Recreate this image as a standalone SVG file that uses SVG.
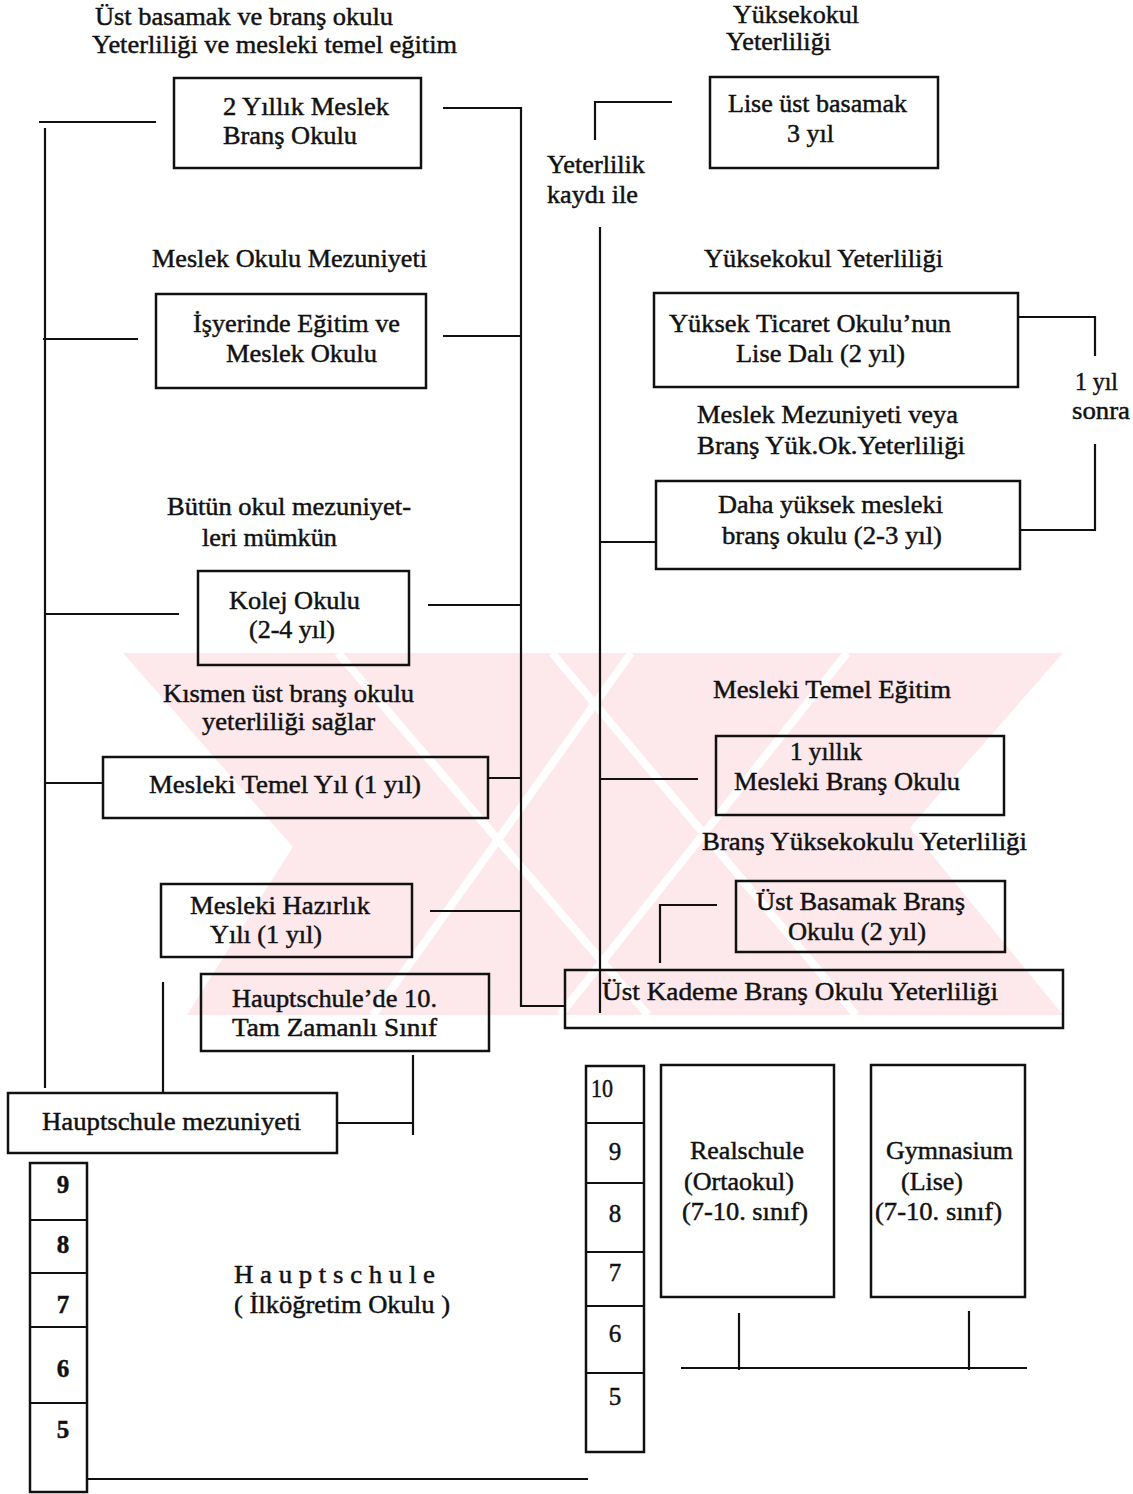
<svg xmlns="http://www.w3.org/2000/svg" width="1133" height="1494" viewBox="0 0 1133 1494">
<style>
  text { font-family: "Liberation Serif", "Times New Roman", serif; font-size: 25px; fill: #111; stroke: #111; stroke-width: 0.45; }
  .box { fill: none; stroke: #111; stroke-width: 2.5; }
  .ln { stroke: #111; stroke-width: 2.2; fill: none; }
  .wm { fill: #fde8ec; }
  .gap { stroke: #ffffff; stroke-width: 8; }
</style>
<rect x="0" y="0" width="1133" height="1494" fill="#ffffff"/>

<g id="watermark">
  <polygon class="wm" points="123,653 767,653 1063,1015 440,1015"/>
  <polygon class="wm" points="415,653 1063,653 746,1015 187,1015"/>
  <line class="gap" x1="338" y1="653" x2="648" y2="1015"/>
  <line class="gap" x1="552" y1="653" x2="856" y2="1015"/>
  <line class="gap" x1="631" y1="653" x2="373" y2="1015"/>
  <line class="gap" x1="847" y1="653" x2="560" y2="1015"/>
</g>

<g id="connectors">
  <line class="ln" x1="45" y1="128" x2="45" y2="1088"/>
  <line class="ln" x1="39" y1="122" x2="156" y2="122"/>
  <line class="ln" x1="43" y1="339" x2="138" y2="339"/>
  <line class="ln" x1="45" y1="614" x2="179" y2="614"/>
  <line class="ln" x1="45" y1="783" x2="103" y2="783"/>
  <polyline class="ln" points="443,108 521,108 521,1006 565,1006"/>
  <line class="ln" x1="443" y1="336" x2="521" y2="336"/>
  <line class="ln" x1="428" y1="605" x2="521" y2="605"/>
  <line class="ln" x1="488" y1="778" x2="521" y2="778"/>
  <line class="ln" x1="430" y1="911" x2="521" y2="911"/>
  <line class="ln" x1="600" y1="227" x2="600" y2="1013"/>
  <line class="ln" x1="600" y1="542" x2="656" y2="542"/>
  <line class="ln" x1="600" y1="779" x2="698" y2="779"/>
  <polyline class="ln" points="595,140 595,102 672,102"/>
  <polyline class="ln" points="1018,317 1095,317 1095,356"/>
  <polyline class="ln" points="1095,444 1095,530 1020,530"/>
  <polyline class="ln" points="660,963 660,905 717,905"/>
  <line class="ln" x1="163" y1="982" x2="163" y2="1093"/>
  <polyline class="ln" points="337,1123 413,1123"/>
  <line class="ln" x1="413" y1="1055" x2="413" y2="1135"/>
  <line class="ln" x1="87" y1="1479" x2="588" y2="1479"/>
  <line class="ln" x1="739" y1="1313" x2="739" y2="1370"/>
  <line class="ln" x1="969" y1="1311" x2="969" y2="1370"/>
  <line class="ln" x1="681" y1="1368" x2="1027" y2="1368"/>
</g>

<g id="label-top-left">
  <text x="95" y="25" textLength="298" lengthAdjust="spacingAndGlyphs">Üst basamak ve branş okulu</text>
  <text x="92" y="53" textLength="365" lengthAdjust="spacingAndGlyphs">Yeterliliği ve mesleki temel eğitim</text>
</g>
<g id="node-2-yillik">
  <rect class="box" x="174" y="78" width="247" height="90"/>
  <text x="223" y="115" textLength="166" lengthAdjust="spacingAndGlyphs">2 Yıllık Meslek</text>
  <text x="223" y="144" textLength="134" lengthAdjust="spacingAndGlyphs">Branş Okulu</text>
</g>
<g id="label-meslek-okulu-mezuniyeti">
  <text x="152" y="267" textLength="275" lengthAdjust="spacingAndGlyphs">Meslek Okulu Mezuniyeti</text>
</g>
<g id="node-isyerinde">
  <rect class="box" x="156" y="294" width="270" height="94"/>
  <text x="193" y="332" textLength="207" lengthAdjust="spacingAndGlyphs">İşyerinde Eğitim ve</text>
  <text x="226" y="362" textLength="151" lengthAdjust="spacingAndGlyphs">Meslek Okulu</text>
</g>
<g id="label-butun-okul">
  <text x="167" y="515" textLength="244" lengthAdjust="spacingAndGlyphs">Bütün okul mezuniyet-</text>
  <text x="202" y="546" textLength="135" lengthAdjust="spacingAndGlyphs">leri mümkün</text>
</g>
<g id="node-kolej">
  <rect class="box" x="198" y="571" width="211" height="94"/>
  <text x="229" y="609" textLength="131" lengthAdjust="spacingAndGlyphs">Kolej Okulu</text>
  <text x="249" y="638" textLength="86" lengthAdjust="spacingAndGlyphs">(2-4 yıl)</text>
</g>
<g id="label-kismen">
  <text x="163" y="702" textLength="251" lengthAdjust="spacingAndGlyphs">Kısmen üst branş okulu</text>
  <text x="202" y="730" textLength="173" lengthAdjust="spacingAndGlyphs">yeterliliği sağlar</text>
</g>
<g id="node-mesleki-temel-yil">
  <rect class="box" x="103" y="757" width="385" height="61"/>
  <text x="149" y="793" textLength="272" lengthAdjust="spacingAndGlyphs">Mesleki Temel Yıl (1 yıl)</text>
</g>
<g id="node-mesleki-hazirlik">
  <rect class="box" x="161" y="884" width="251" height="73"/>
  <text x="190" y="914" textLength="180" lengthAdjust="spacingAndGlyphs">Mesleki Hazırlık</text>
  <text x="210" y="943" textLength="112" lengthAdjust="spacingAndGlyphs">Yılı (1 yıl)</text>
</g>
<g id="node-hauptschule-10">
  <rect class="box" x="201" y="974" width="288" height="77"/>
  <text x="232" y="1007" textLength="205" lengthAdjust="spacingAndGlyphs">Hauptschule’de 10.</text>
  <text x="232" y="1036" textLength="205" lengthAdjust="spacingAndGlyphs">Tam Zamanlı Sınıf</text>
</g>
<g id="node-hauptschule-mezuniyeti">
  <rect class="box" x="8" y="1093" width="329" height="60"/>
  <text x="42" y="1130" textLength="259" lengthAdjust="spacingAndGlyphs">Hauptschule mezuniyeti</text>
</g>
<g id="node-grades-left">
  <rect class="box" x="30" y="1163" width="57" height="329"/>
  <line class="ln" x1="30" y1="1220" x2="87" y2="1220"/>
  <line class="ln" x1="30" y1="1273" x2="87" y2="1273"/>
  <line class="ln" x1="30" y1="1327" x2="87" y2="1327"/>
  <line class="ln" x1="30" y1="1403" x2="87" y2="1403"/>
  <text x="63" y="1193" text-anchor="middle" font-weight="bold">9</text>
  <text x="63" y="1253" text-anchor="middle" font-weight="bold">8</text>
  <text x="63" y="1313" text-anchor="middle" font-weight="bold">7</text>
  <text x="63" y="1377" text-anchor="middle" font-weight="bold">6</text>
  <text x="63" y="1438" text-anchor="middle" font-weight="bold">5</text>
</g>
<g id="label-hauptschule">
  <text x="234" y="1283" textLength="201" lengthAdjust="spacingAndGlyphs">H a u p t s c h u l e</text>
  <text x="234" y="1313" textLength="216" lengthAdjust="spacingAndGlyphs">( İlköğretim Okulu )</text>
</g>

<g id="label-yuksekokul-top">
  <text x="733" y="23" textLength="126" lengthAdjust="spacingAndGlyphs">Yüksekokul</text>
  <text x="726" y="50" textLength="105" lengthAdjust="spacingAndGlyphs">Yeterliliği</text>
</g>
<g id="node-lise-ust">
  <rect class="box" x="710" y="77" width="228" height="91"/>
  <text x="728" y="112" textLength="179" lengthAdjust="spacingAndGlyphs">Lise üst basamak</text>
  <text x="787" y="142" textLength="47" lengthAdjust="spacingAndGlyphs">3 yıl</text>
</g>
<g id="label-yeterlilik-kaydi">
  <text x="547" y="173" textLength="98" lengthAdjust="spacingAndGlyphs">Yeterlilik</text>
  <text x="547" y="203" textLength="91" lengthAdjust="spacingAndGlyphs">kaydı ile</text>
</g>
<g id="label-yuksekokul-yeterliligi">
  <text x="704" y="267" textLength="239" lengthAdjust="spacingAndGlyphs">Yüksekokul Yeterliliği</text>
</g>
<g id="node-yuksek-ticaret">
  <rect class="box" x="654" y="293" width="364" height="94"/>
  <text x="669" y="332" textLength="282" lengthAdjust="spacingAndGlyphs">Yüksek Ticaret Okulu’nun</text>
  <text x="736" y="362" textLength="169" lengthAdjust="spacingAndGlyphs">Lise Dalı (2 yıl)</text>
</g>
<g id="label-meslek-mezuniyeti-veya">
  <text x="697" y="423" textLength="261" lengthAdjust="spacingAndGlyphs">Meslek Mezuniyeti veya</text>
  <text x="697" y="454" textLength="268" lengthAdjust="spacingAndGlyphs">Branş Yük.Ok.Yeterliliği</text>
</g>
<g id="node-daha-yuksek">
  <rect class="box" x="656" y="481" width="364" height="88"/>
  <text x="718" y="513" textLength="225" lengthAdjust="spacingAndGlyphs">Daha yüksek mesleki</text>
  <text x="722" y="544" textLength="220" lengthAdjust="spacingAndGlyphs">branş okulu (2-3 yıl)</text>
</g>
<g id="label-1-yil-sonra">
  <text x="1075" y="390" textLength="43" lengthAdjust="spacingAndGlyphs">1 yıl</text>
  <text x="1072" y="419" textLength="58" lengthAdjust="spacingAndGlyphs">sonra</text>
</g>
<g id="label-mesleki-temel-egitim">
  <text x="713" y="698" textLength="238" lengthAdjust="spacingAndGlyphs">Mesleki Temel Eğitim</text>
</g>
<g id="node-1-yillik">
  <rect class="box" x="716" y="736" width="288" height="79"/>
  <text x="790" y="760" textLength="72" lengthAdjust="spacingAndGlyphs">1 yıllık</text>
  <text x="734" y="790" textLength="226" lengthAdjust="spacingAndGlyphs">Mesleki Branş Okulu</text>
</g>
<g id="label-brans-yuksekokulu">
  <text x="702" y="850" textLength="325" lengthAdjust="spacingAndGlyphs">Branş Yüksekokulu Yeterliliği</text>
</g>
<g id="node-ust-basamak">
  <rect class="box" x="736" y="881" width="269" height="71"/>
  <text x="756" y="910" textLength="209" lengthAdjust="spacingAndGlyphs">Üst Basamak Branş</text>
  <text x="788" y="940" textLength="138" lengthAdjust="spacingAndGlyphs">Okulu (2 yıl)</text>
</g>
<g id="node-ust-kademe">
  <rect class="box" x="565" y="970" width="498" height="58"/>
  <text x="602" y="1000" textLength="396" lengthAdjust="spacingAndGlyphs">Üst Kademe Branş Okulu Yeterliliği</text>
</g>
<g id="node-grades-right">
  <rect class="box" x="586" y="1066" width="58" height="386"/>
  <line class="ln" x1="586" y1="1123" x2="644" y2="1123"/>
  <line class="ln" x1="586" y1="1183" x2="644" y2="1183"/>
  <line class="ln" x1="586" y1="1252" x2="644" y2="1252"/>
  <line class="ln" x1="586" y1="1306" x2="644" y2="1306"/>
  <line class="ln" x1="586" y1="1373" x2="644" y2="1373"/>
  <text x="591" y="1097" textLength="22" lengthAdjust="spacingAndGlyphs">10</text>
  <text x="615" y="1160" text-anchor="middle">9</text>
  <text x="615" y="1222" text-anchor="middle">8</text>
  <text x="615" y="1281" text-anchor="middle">7</text>
  <text x="615" y="1342" text-anchor="middle">6</text>
  <text x="615" y="1405" text-anchor="middle">5</text>
</g>
<g id="node-realschule">
  <rect class="box" x="661" y="1065" width="173" height="232"/>
  <text x="690" y="1159" textLength="114" lengthAdjust="spacingAndGlyphs">Realschule</text>
  <text x="684" y="1190" textLength="110" lengthAdjust="spacingAndGlyphs">(Ortaokul)</text>
  <text x="682" y="1220" textLength="126" lengthAdjust="spacingAndGlyphs">(7-10. sınıf)</text>
</g>
<g id="node-gymnasium">
  <rect class="box" x="871" y="1065" width="154" height="232"/>
  <text x="886" y="1159" textLength="127" lengthAdjust="spacingAndGlyphs">Gymnasium</text>
  <text x="901" y="1190" textLength="62" lengthAdjust="spacingAndGlyphs">(Lise)</text>
  <text x="875" y="1220" textLength="127" lengthAdjust="spacingAndGlyphs">(7-10. sınıf)</text>
</g>
</svg>
